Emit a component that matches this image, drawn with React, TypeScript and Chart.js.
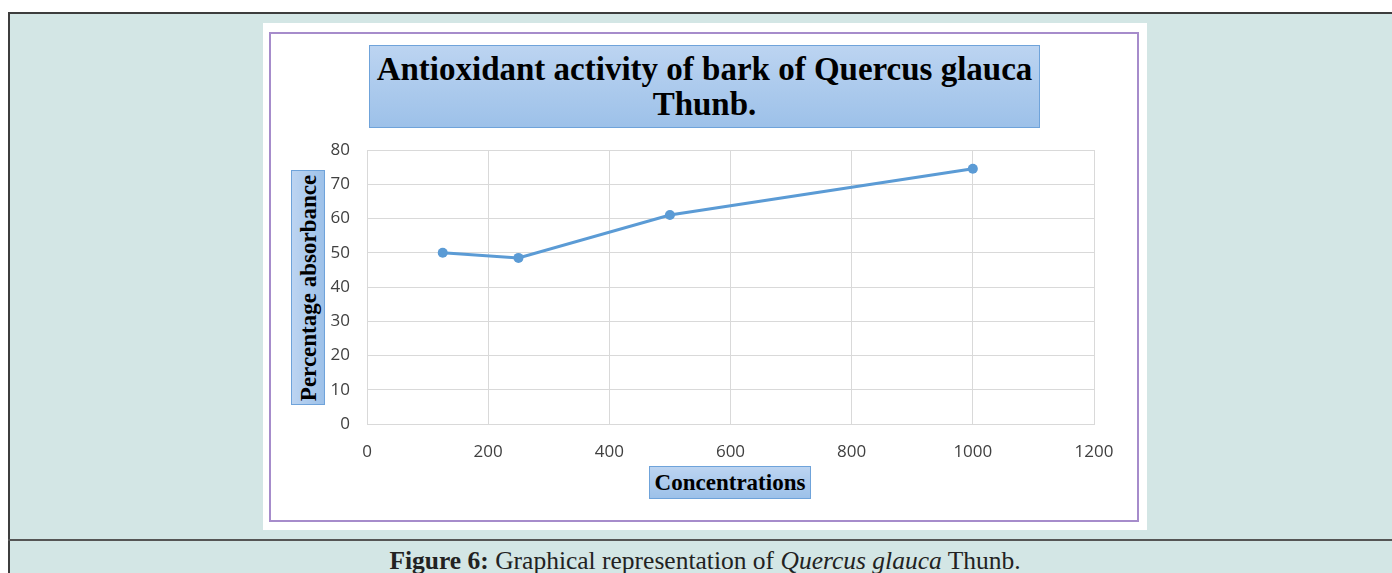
import React, { useEffect, useRef } from "react";
import { Chart, registerables } from "chart.js";

Chart.register(...registerables);

const concentrations = [125, 250, 500, 1000];
const absorbance = [50, 48.5, 61, 74.5];
const titleLines = ["Antioxidant activity of bark of Quercus glauca", "Thunb."];
const xTitle = "Concentrations";
const yTitle = "Percentage absorbance";

const boxStyle: React.CSSProperties = {
  position: "absolute",
  boxSizing: "border-box",
  border: "1.5px solid #6fa3da",
  background: "linear-gradient(to bottom, #bcd4f1, #9dc1e9)",
  fontFamily: "'Liberation Serif', serif",
  fontWeight: "bold",
  color: "#000",
  textAlign: "center",
};

const tickFont = { family: "'Open Sans'", size: 17 };

export default function App() {
  const ref = useRef<HTMLCanvasElement | null>(null);
  useEffect(() => {
    if (!ref.current) return;
    const chart = new Chart(ref.current, {
      type: "line",
      data: {
        datasets: [
          {
            data: concentrations.map((x, i) => ({ x, y: absorbance[i] })),
            borderColor: "#5b9bd5",
            backgroundColor: "#5b9bd5",
            pointBackgroundColor: "#5b9bd5",
            pointBorderWidth: 0,
            pointRadius: 5,
            borderWidth: 3,
            tension: 0,
          },
        ],
      },
      options: {
        animation: false,
        responsive: false,
        devicePixelRatio: 1,
        layout: { padding: { left: 44, right: 53, top: 127, bottom: 66 } },
        plugins: { legend: { display: false }, tooltip: { enabled: false }, title: { display: false } },
        scales: {
          x: {
            type: "linear",
            min: 0,
            max: 1200,
            ticks: { stepSize: 200, padding: 18, color: "#404040", font: tickFont, callback: (v: any) => String(v) },
            grid: { color: "#d9d9d9", drawTicks: false, lineWidth: 1 },
            border: { color: "#d9d9d9" },
            afterFit: (axis: any) => {
              axis.height = 40;
            },
          },
          y: {
            min: 0,
            max: 80,
            ticks: { stepSize: 10, padding: 17, color: "#404040", font: tickFont, callback: (v: any) => String(v) },
            grid: { color: "#d9d9d9", drawTicks: false, lineWidth: 1 },
            border: { color: "#d9d9d9" },
            afterFit: (axis: any) => {
              axis.width = 60;
            },
          },
        },
      },
    });
    return () => chart.destroy();
  }, []);

  return (
    <div style={{ position: "absolute", left: 0, top: 0, width: 1392, height: 573, overflow: "hidden", background: "#fff" }}>
      <div
        style={{
          position: "absolute",
          left: 8,
          top: 12,
          width: 1400,
          height: 600,
          background: "#d3e6e5",
          borderLeft: "2px solid #3d3d3d",
          borderTop: "2px solid #3d3d3d",
          boxSizing: "border-box",
        }}
      />
      <div style={{ position: "absolute", left: 8, top: 539, width: 1400, height: 2, background: "#555" }} />
      <div style={{ position: "absolute", left: 263, top: 23, width: 884, height: 507, background: "#fff" }} />
      <div
        style={{
          position: "absolute",
          left: 269,
          top: 32,
          width: 870,
          height: 490,
          boxSizing: "border-box",
          border: "2px solid #a68ccb",
        }}
      />
      <div style={{ position: "absolute", left: 263, top: 23, width: 884, height: 507 }}>
        <canvas ref={ref} width={884} height={507} style={{ width: 884, height: 507, display: "block" }} />
      </div>
      <div style={{ ...boxStyle, left: 369, top: 45, width: 671, height: 83, fontSize: 33, lineHeight: "35px", paddingTop: 6 }}>
        <div style={{ whiteSpace: "nowrap" }}>{titleLines[0]}</div>
        <div style={{ whiteSpace: "nowrap" }}>{titleLines[1]}</div>
      </div>
      <div style={{ ...boxStyle, left: 649, top: 466, width: 162, height: 33, fontSize: 23, lineHeight: "32px" }}>{xTitle}</div>
      <div
        style={{
          ...boxStyle,
          left: 291,
          top: 170,
          width: 34,
          height: 235,
          background: "linear-gradient(to right, #bcd4f1, #9dc1e9)",
        }}
      >
        <div
          style={{
            position: "absolute",
            left: "50%",
            top: "50%",
            transform: "translate(-50%, -50%) rotate(-90deg)",
            whiteSpace: "nowrap",
            fontSize: 23,
            lineHeight: "31px",
          }}
        >
          {yTitle}
        </div>
      </div>
      <div
        style={{
          position: "absolute",
          left: 8,
          top: 541,
          width: 1394,
          height: 32,
          lineHeight: "40px",
          textAlign: "center",
          fontFamily: "'Liberation Serif', serif",
          fontSize: 25.5,
          color: "#222",
          whiteSpace: "nowrap",
        }}
      >
        <b>Figure 6:</b> Graphical representation of <i>Quercus glauca</i> Thunb.
      </div>
    </div>
  );
}
